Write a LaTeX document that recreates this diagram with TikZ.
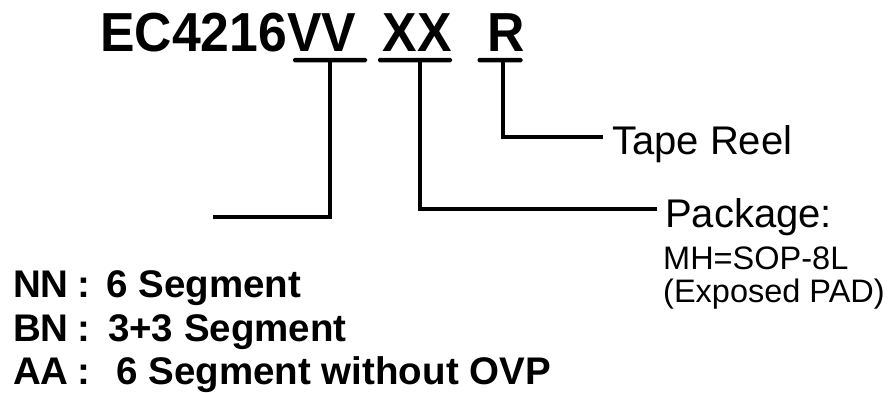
\documentclass[tikz,border=0pt]{standalone}
\usepackage{fontspec}
\setmainfont{Liberation Sans}
\newfontfamily\pnfont[FakeStretch=0.94]{Liberation Sans}
\usetikzlibrary{positioning}

\begin{document}
\begin{tikzpicture}[
  x=1pt, y=-1pt,
  title/.style={font=\pnfont\bfseries\fontsize{55}{60}\selectfont, inner sep=0pt},
  codeline/.style={font=\bfseries\fontsize{38.5}{40}\selectfont, inner sep=0pt, anchor=base west},
  label/.style={font=\fontsize{40}{44}\selectfont, inner ysep=0pt, anchor=base west},
  option/.style={font=\fontsize{32.5}{35}\selectfont, inner sep=0pt, anchor=base west},
  bar/.style={fill=black, inner sep=0pt, minimum height=4.5pt, rounded corners=1.5pt},
  link/.style={line width=3.2pt, draw=black}
]
\useasboundingbox (0,0) rectangle (895,392);

% part number
\node[title, anchor=base west] (pn) at (100,51.5) {EC4216};
\node[title, base right=0pt of pn] (vv) {VV};
\node[title, base right=26pt of vv] (xx) {XX};
\node[title, base right=35pt of xx] (rr) {R};

% bars under the fields
\node[bar, minimum width=74pt] (vvbar) at (330,60) {};
\node[bar, minimum width=74pt] (xxbar) at (415,60) {};
\node[bar, minimum width=45pt] (rrbar) at (500,60) {};

% labels
\node[label, inner xsep=9pt] (tape) at (603,154) {Tape Reel};
\node[label, inner xsep=8pt] (pkg) at (657,227) {Package:};
\node[option] (mh) at (663,269) {MH=SOP-8L};
\node[option] (pad) at (663,302) {(Exposed PAD)};

\node[codeline] (nn) at (13,297) {NN\hspace{9pt}:\hspace{16pt}6 Segment};
\node[codeline] (bn) at (13,341) {BN\hspace{9pt}:\hspace{17.5pt}3+3 Segment};
\node[codeline] (aa) at (13,384) {AA\hspace{9pt}:\hspace{26pt}6 Segment without OVP};

\coordinate (vvend) at (213,217);

% connectors
\draw[link] (vvbar.center) |- (vvend);
\draw[link] ([xshift=5pt]xxbar.center) |- ([yshift=18pt]pkg.base west);
\draw[link] ([xshift=3pt]rrbar.center) |- ([yshift=17pt]tape.base west);

\end{tikzpicture}
\end{document}
